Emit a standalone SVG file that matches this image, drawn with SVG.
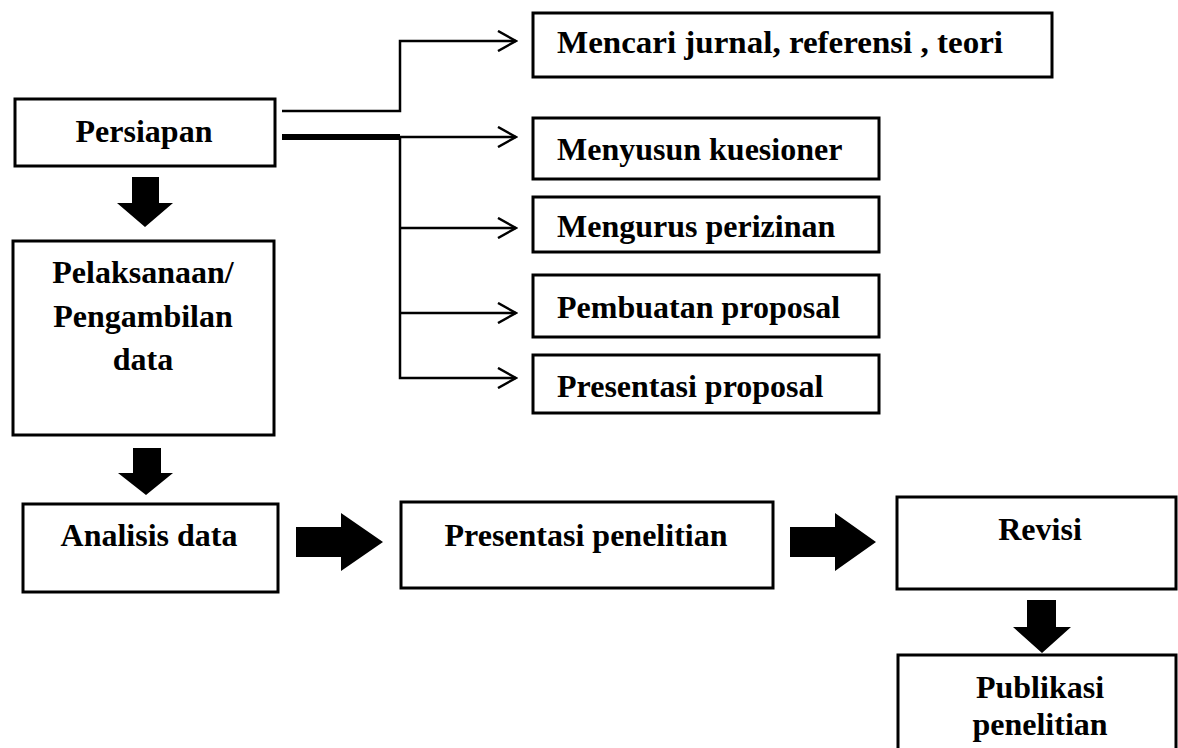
<svg xmlns="http://www.w3.org/2000/svg" width="1178" height="748" viewBox="0 0 1178 748">
<defs>
<style>
.box{fill:#fff;stroke:#000;stroke-width:3}
.t{font-family:"Liberation Serif","Times New Roman",serif;font-weight:bold;font-size:32px;fill:#000}
.c{text-anchor:middle}
.ln{fill:none;stroke:#000;stroke-width:2.5}
.blk{fill:#000}
</style>
<marker id="chev" viewBox="0 0 22 22" refX="20" refY="11" markerWidth="22" markerHeight="22" markerUnits="userSpaceOnUse" orient="auto">
<path d="M2,1 L20,11 L2,21" fill="none" stroke="#000" stroke-width="2.5"/>
</marker>
</defs>
<rect width="1178" height="748" fill="#fff"/>
<g id="connectors">
<path class="ln" d="M282,111 H400 V41 H516" marker-end="url(#chev)"/>
<path d="M282,137 H400" stroke="#000" stroke-width="6" fill="none"/>
<path class="ln" d="M400,137 H516" marker-end="url(#chev)"/>
<path class="ln" d="M400,137 V378 H516" marker-end="url(#chev)"/>
<path class="ln" d="M400,228 H516" marker-end="url(#chev)"/>
<path class="ln" d="M400,313 H516" marker-end="url(#chev)"/>
<polygon class="blk" points="132,177 159,177 159,203 173,203 145,227 117,203 132,203"/>
<polygon class="blk" points="133,448 161,448 161,473 173,473 146,495 118,473 133,473"/>
<polygon class="blk" points="296,527 341,527 341,513 383,542 341,571 341,557 296,557"/>
<polygon class="blk" points="790,527 835,527 835,513 876,542 835,571 835,557 790,557"/>
<polygon class="blk" points="1027,600 1056,600 1056,627 1071,627 1042,653 1013,627 1027,627"/>
</g>
<g id="persiapan"><rect class="box" x="15" y="99" width="260" height="67"/><text class="t c" x="144" y="142">Persiapan</text></g>
<g id="pelaksanaan"><rect class="box" x="13" y="241" width="261" height="194"/>
<text class="t c" x="143" y="283">Pelaksanaan/</text>
<text class="t c" x="143" y="327">Pengambilan</text>
<text class="t c" x="143" y="370">data</text></g>
<g id="analisis"><rect class="box" x="23" y="504" width="255" height="88"/><text class="t c" x="149" y="546">Analisis data</text></g>
<g id="presentasi-penelitian"><rect class="box" x="401" y="502" width="372" height="86"/><text class="t c" x="586" y="546">Presentasi penelitian</text></g>
<g id="revisi"><rect class="box" x="897" y="497" width="279" height="92"/><text class="t c" x="1040" y="540">Revisi</text></g>
<g id="publikasi"><rect class="box" x="898" y="655" width="278" height="110"/>
<text class="t c" x="1040" y="698">Publikasi</text>
<text class="t c" x="1040" y="735">penelitian</text></g>
<g id="mencari"><rect class="box" x="533" y="13" width="519" height="64"/><text class="t" x="557" y="53" textLength="446" lengthAdjust="spacingAndGlyphs">Mencari jurnal, referensi , teori</text></g>
<g id="menyusun"><rect class="box" x="533" y="118" width="346" height="61"/><text class="t" x="557" y="160">Menyusun kuesioner</text></g>
<g id="mengurus"><rect class="box" x="533" y="197" width="346" height="55"/><text class="t" x="557" y="237">Mengurus perizinan</text></g>
<g id="pembuatan"><rect class="box" x="533" y="275" width="346" height="62"/><text class="t" x="557" y="318">Pembuatan proposal</text></g>
<g id="presentasi-proposal"><rect class="box" x="533" y="355" width="346" height="58"/><text class="t" x="557" y="397">Presentasi proposal</text></g>
</svg>
